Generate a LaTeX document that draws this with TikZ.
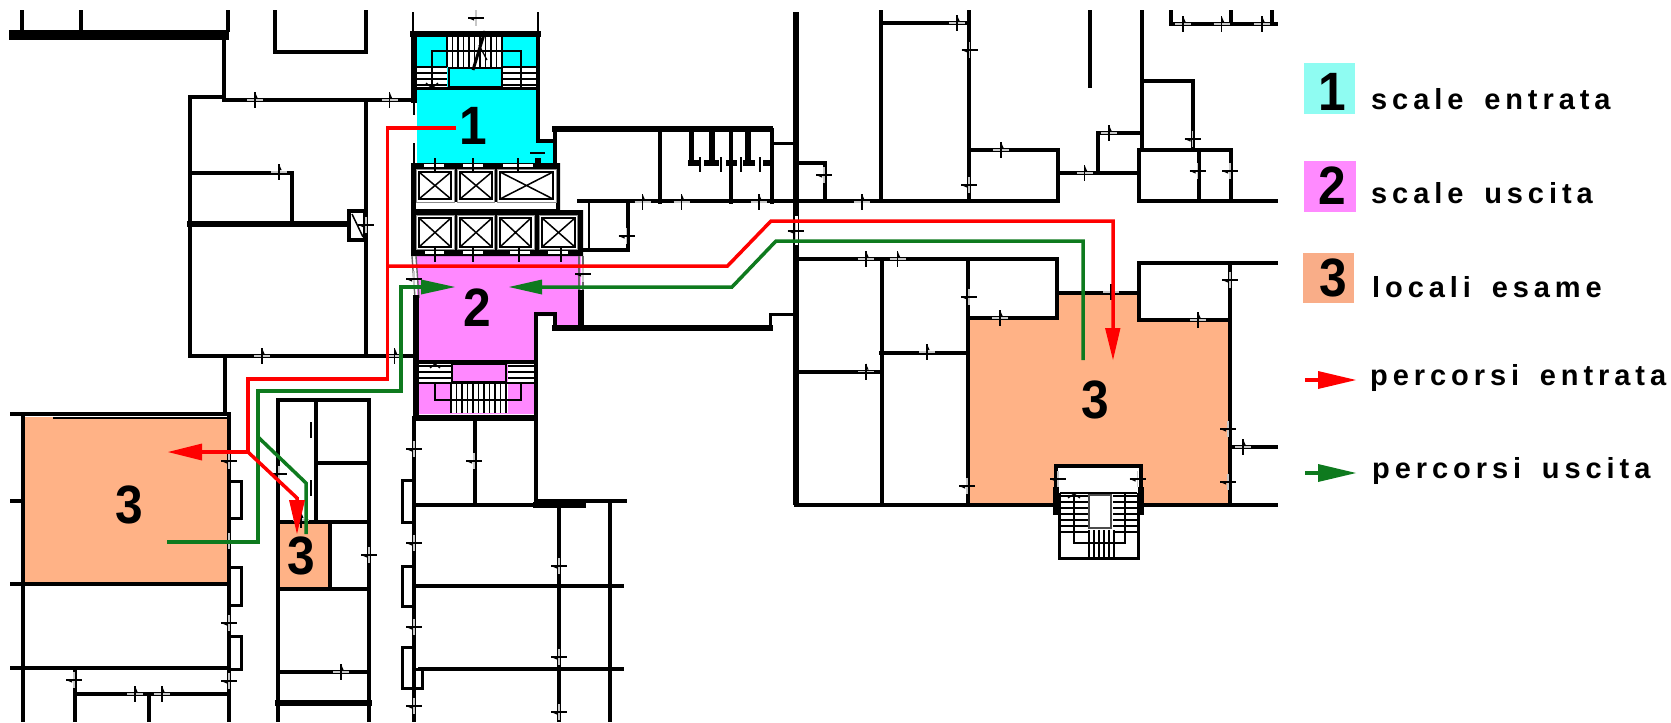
\documentclass[tikz,border=0pt]{standalone}
\usepackage{fontspec}
\setmainfont{Liberation Sans}
\newfontfamily\legfont{Liberation Sans}[LetterSpace=17,WordSpace=1.6]
\usetikzlibrary{arrows.meta}
\definecolor{cyanroom}{HTML}{00FFFF}
\definecolor{pinkroom}{HTML}{FF88FF}
\definecolor{orangeroom}{HTML}{FFB286}
\definecolor{legcyan}{HTML}{8FFCF2}
\definecolor{legpink}{HTML}{FF8AFF}
\definecolor{legorange}{HTML}{F9AD88}
\definecolor{pathgreen}{HTML}{0E7A1E}
\tikzset{
  wallpen/.style={line width=4pt,line cap=rect,line join=miter},
  thickwall/.style={line width=5.5pt,line cap=rect,line join=miter},
  slimwall/.style={line width=2.2pt},
  treadpen/.style={line width=1.6pt},
  doorpatch/.style={line width=1.2pt,black!22},
  doortick/.style={line width=1.3pt},
  liftbox/.style={fill=white,draw=black!45,line width=1pt},
  liftcore/.style={draw=black,line width=2pt},
  routered/.style={red,line width=3.5pt,line join=miter},
  routegreen/.style={pathgreen,line width=3.5pt,line join=miter},
  bignum/.style={inner sep=0pt,xscale=.92,transform shape,font=\fontsize{54}{54}\selectfont\bfseries},
  legtext/.style={inner sep=0pt,anchor=base west,font=\fontsize{29}{29}\selectfont\legfont\bfseries},
}
\begin{document}
\begin{tikzpicture}[x=1pt,y=-1pt]
\useasboundingbox (0,0) rectangle (1671,723);
\fill[white] (0,0) rectangle (1671,723);
%--- room fills
\fill[cyanroom] (417,37) rectangle (536,163);
\fill[cyanroom] (536,143) rectangle (555,163);
\fill[pinkroom] (417,256) -- (581,256) -- (581,326) -- (557,326) -- (557,316) -- (534,316) -- (534,414) -- (417,414) -- cycle;
\fill[orangeroom] (969,320) -- (1056,320) -- (1056,293) -- (1139,293) -- (1139,322) -- (1229,322) -- (1229,503) -- (969,503) -- cycle;
\fill[orangeroom] (24,417) rectangle (228,583);
\fill[orangeroom] (279,523) rectangle (329,588);
%--- left-hand walls
\draw[line width=10pt] (9,34.5) -- (229,34.5);
\draw[wallpen] (22,12) -- (22,30) (81,12) -- (81,30) (228,12) -- (228,30);
\draw[wallpen] (224,39) -- (224,100) -- (412,100);
\draw[wallpen] (190,356) -- (190,97) -- (224,97);
\draw[wallpen] (275,12) -- (275,52) -- (366,52) -- (366,12);
\draw[wallpen] (366,100) -- (366,356);
\draw[wallpen] (190,356) -- (414,356);
\draw[thickwall] (190,224) -- (348,224);
\draw[wallpen] (190,173) -- (292,173) -- (292,224);
\draw[wallpen,fill=white] (349,211) rectangle (365,240);
\draw[line width=1.5pt] (352,214) -- (363,237);
\draw[wallpen] (225,357) -- (225,414);
\draw[wallpen] (12,414) -- (229,414);
\draw[line width=2pt] (53,418) -- (228,418);
\draw[wallpen] (23,415) -- (23,720);
\draw[wallpen] (229,414) -- (229,720);
\draw[wallpen] (12,501) -- (23,501);
\draw[wallpen] (12,584) -- (228,584);
\draw[wallpen] (12,668) -- (228,668);
\draw[wallpen] (75,668) -- (75,720);
\draw[wallpen] (77,694) -- (228,694);
\draw[wallpen] (149,694) -- (149,720);
\foreach \ya/\yb in {481/518,567/605,636/669}{\draw[line width=3pt] (229,\ya) rectangle (241,\yb);}
%--- central column
\draw[wallpen] (277.5,400) -- (369,400) -- (369,720);
\draw[wallpen] (277.5,400) -- (277.5,720);
\draw[wallpen] (316,400) -- (316,522);
\draw[wallpen] (316,463) -- (369,463);
\draw[wallpen] (278,522) -- (369,522);
\draw[wallpen] (330,522) -- (330,589);
\draw[wallpen] (278,589) -- (369,589);
\draw[wallpen] (278,672) -- (369,672);
\draw[thickwall] (278,703) -- (369,703);
%--- stair core 1 walls
\draw[line width=2.2pt] (413,12) -- (413,33) (538,12) -- (538,33);
\draw[thickwall] (413,34) -- (538,34);
\draw[thickwall] (414,34) -- (414,100);
\draw[slimwall] (414,100) -- (414,163);
\fill[white] (412,115) rectangle (416,143);
\draw[wallpen] (538,34) -- (538,141) -- (555,141) -- (555,129);
\draw[thickwall] (555,129) -- (770,129);
\draw[wallpen] (555,129) -- (555,165);
\fill (535,158) rectangle (541,168);
%--- stair core 1 detail
\fill[white] (447,37) rectangle (503,67);
\foreach \x in {447,452.5,...,503}{\draw[treadpen] (\x,37) -- (\x,67);}
\fill[white] (417,67) rectangle (447,88);
\fill[white] (503,67) rectangle (536,88);
\foreach \y in {67,73,79,85}{\draw[treadpen] (417,\y) -- (447,\y) (503,\y) -- (536,\y);}
\draw[line width=1.6pt,fill=cyanroom] (449,68) rectangle (502,87);
\draw[slimwall] (432,88) -- (432,51) -- (521,51) -- (521,88);
\draw[line width=2.6pt] (417,88.5) -- (536,88.5);
\draw[line width=3pt] (473,70) -- (485,31);
\draw[line width=1.2pt] (479,45) -- (487,60);
\draw[line width=1.2pt] (426,83) -- (432,88) -- (438,83);
\draw[doortick] (530,153) -- (545,153);
%--- lift block
\fill (411,163) -- (560,163) -- (560,210) -- (583,210) -- (583,256) -- (411,256) -- cycle;
\fill[white] (416,202) rectangle (556,209);
\foreach \xa/\xb/\xc/\xd in {416/454/419/451,457/494/460/492,497/556/500/553}{
  \draw[liftbox] (\xa,169) rectangle (\xb,202);
  \draw[liftcore] (\xc,172) rectangle (\xd,199);
  \draw[line width=1.5pt] (\xc,172) -- (\xd,199) (\xc,199) -- (\xd,172);
}
\foreach \xa/\xb/\xc/\xd in {416/454/419/451,457/494/460/492,497/534/500/531,539/577/542/575}{
  \draw[liftbox] (\xa,215) rectangle (\xb,249);
  \draw[liftcore] (\xc,218) rectangle (\xd,247);
  \draw[line width=1.5pt] (\xc,218) -- (\xd,247) (\xc,247) -- (\xd,218);
}
\foreach \xa/\xb in {424/444,463/483,503/533}{\fill[white] (\xa,163.5) rectangle (\xb,167);}
\foreach \xa/\xb in {425/444,463/483,510/530,548/568}{\fill[white] (\xa,250.5) rectangle (\xb,254);}
\foreach \x in {435,473,518}{\draw[doortick] (\x,158) -- (\x,172);}
\foreach \x in {435,473,519,561}{\draw[doortick] (\x,247) -- (\x,262);}
%--- pink column walls
\draw[line width=1.4pt,black!60] (412,256) -- (415,298) (416,256) -- (419,298);
\draw[thickwall] (416,298) -- (416,418);
\draw[line width=1.4pt,black!60] (579,256) -- (579,293) (583,256) -- (583,293);
\draw[thickwall] (581,293) -- (581,328);
\draw[thickwall] (555,328) -- (770,328);
\draw[wallpen] (555,328) -- (555,314) -- (536,314) -- (536,500);
\draw[wallpen] (536,501) -- (625,501);
\draw[line width=3pt] (770,328) -- (770,314) -- (795,314);
%--- stair core 2 detail
\draw[wallpen] (418,362) -- (534,362);
\fill[white] (419,364) rectangle (451,383);
\fill[white] (508,364) rectangle (534,383);
\foreach \y in {366,372,378}{\draw[treadpen] (419,\y) -- (451,\y) (508,\y) -- (534,\y);}
\draw[line width=1.6pt,fill=pinkroom] (452,364) rectangle (506,382);
\draw[treadpen] (419,383) -- (534,383);
\fill[white] (451,384) rectangle (508,413);
\foreach \x in {451,456.5,...,508}{\draw[treadpen] (\x,384) -- (\x,413);}
\draw[slimwall] (435,383) -- (435,400) -- (521,400) -- (521,383);
\draw[line width=1.2pt] (430,368) -- (435,364) -- (440,368);
\draw[line width=6pt] (414,418) -- (537,418);
%--- lower centre block
\draw[wallpen] (414,418) -- (414,720);
\draw[wallpen] (475,418) -- (475,504);
\draw[wallpen] (414,505) -- (536,505);
\draw[thickwall] (536,505) -- (583,505);
\draw[wallpen] (559,501) -- (559,720);
\draw[wallpen] (610,501) -- (610,720);
\draw[wallpen] (414,586) -- (622,586);
\draw[wallpen] (420,669) -- (622,669);
\foreach \ya/\yb in {480/522,566/606,647/688}{\draw[line width=3pt] (402,\ya) rectangle (414,\yb);}
\draw[line width=3pt] (414,669) -- (422,669) -- (422,688) -- (414,688);
%--- upper middle walls
\draw[wallpen] (772,130) -- (772,202);
\draw[line width=3pt] (772,143) -- (795,143);
\draw[wallpen] (660,130) -- (660,202) (731,130) -- (731,202);
\draw[thickwall] (691.5,132) -- (691.5,162) (712,132) -- (712,162) (748,132) -- (748,162);
\draw[thickwall] (691,163) -- (696,163) (707,163) -- (716,163) (729,163) -- (734,163) (746,163) -- (752,163) (766,163) -- (770,163);
\foreach \x in {700,721,741,760}{\draw[doortick] (\x,157) -- (\x,172);}
\draw[wallpen] (583,201) -- (1058,201);
\draw[wallpen] (579,201) -- (628,201) -- (628,250) -- (584,250);
\draw[slimwall] (589,201) -- (589,250);
\draw[wallpen] (797,163) -- (825,163) -- (825,201);
\draw[wallpen] (881,23) -- (969,23);
\draw[wallpen] (881,12) -- (881,201);
\draw[wallpen] (969,12) -- (969,201);
\draw[wallpen] (969,150) -- (1058,150) -- (1058,201);
\draw[wallpen] (1090,12) -- (1090,86);
\draw[wallpen] (1058,173) -- (1139,173);
\draw[wallpen] (1098,173) -- (1098,133) -- (1142,133);
\draw[wallpen] (1142,12) -- (1142,150);
\draw[wallpen] (1142,81) -- (1193,81) -- (1193,150);
\draw[wallpen] (1139,150) -- (1231,150) -- (1231,200);
\draw[wallpen] (1139,150) -- (1139,201);
\draw[wallpen] (1199,150) -- (1199,200);
\draw[wallpen] (1139,201) -- (1276,201);
\draw[wallpen] (1171,12) -- (1171,24) -- (1276,24);
\draw[wallpen] (1231,12) -- (1231,24) (1272,12) -- (1272,24);
%--- main vertical wall
\draw[line width=6pt] (796,12) -- (796,505);
\fill[white] (794.5,216) rectangle (797.5,245);
%--- lower right walls
\draw[wallpen] (796,259) -- (1057,259) -- (1057,318) -- (968,318);
\draw[wallpen] (881.5,259) -- (881.5,504);
\draw[wallpen] (968,259) -- (968,504);
\draw[wallpen] (881,352.5) -- (968,352.5);
\draw[wallpen] (796,371.5) -- (881,371.5);
\draw[wallpen] (1057,292.5) -- (1139,292.5);
\draw[wallpen] (1139,263) -- (1276,263);
\draw[wallpen] (1139,263) -- (1139,320) -- (1230,320);
\draw[wallpen] (1230,263) -- (1230,504);
\draw[wallpen] (1230,447) -- (1276,447);
\draw[wallpen] (796,504.5) -- (1058,504.5);
\draw[wallpen] (1138,504.5) -- (1276,504.5);
%--- stair 3
\fill[white] (1055,466) rectangle (1141,493);
\draw[wallpen] (1056,492) -- (1056,466) -- (1141,466) -- (1141,492);
\draw[thickwall] (1056,490) -- (1056,512) (1141,490) -- (1141,512);
\fill[white] (1058,493) rectangle (1138,558);
\draw[line width=3pt] (1059,493) -- (1059,558) -- (1138,558) -- (1138,493);
\foreach \y in {496,502,508,514,520,526,532}{\draw[treadpen] (1060,\y) -- (1088,\y) (1113,\y) -- (1137,\y);}
\foreach \x in {1089,1094,...,1114}{\draw[treadpen] (\x,530) -- (\x,557);}
\draw[treadpen] (1060,493) -- (1137,493);
\draw[slimwall] (1074,493) -- (1074,543) -- (1125,543) -- (1125,493);
\draw[line width=1.4pt,black!70,fill=white] (1089,495) rectangle (1111,528);
\draw[line width=1.2pt] (1068,498) -- (1074,494) -- (1080,498);
%--- doors on horizontal walls
\foreach \x/\y in {255/100,389.5/100,279/172,262/356,394.6/356,135/694,162/694,341/672,301/520,
 957/23,642.5/202,681.6/202,759/202,862/202,1001/150,1084.5/173,1109/133,1183/24,1221.5/24,1262/24,
 866/259,897.5/259,1111/292,1000/318,1198/320,927/352,866/371.7,1243/447}{
  \draw[doorpatch] ({\x-8},\y) -- ({\x+8},\y);
  \draw[doortick] (\x,{\y-8}) -- (\x,{\y+8});
  \fill (\x,{\y-8}) -- ({\x+2.6},{\y-2}) -- (\x,{\y-2}) -- cycle;
}
%--- doors on vertical walls
\foreach \x/\y in {366/225,414/279,583/274,229/461,279/474,229/541,229/623,74/680,229/681,414/543,414/627,414/706,
 474/461,414/449,369/555,559/566,559/657,559/712,476/18,
 969.5/50,969/185,824/175,795.6/231,626.5/236,1192.5/139,1197.7/171,1230/171,969/297,1230/280,
 1228/429,1228/482,967/486,1058/479,1137.5/479}{
  \draw[doorpatch] (\x,{\y-8}) -- (\x,{\y+8});
  \draw[doortick] ({\x-8},\y) -- ({\x+8},\y);
  \fill ({\x-8},\y) -- ({\x-2},{\y+2.6}) -- ({\x-2},\y) -- cycle;
}
\draw[doortick] (311,422) -- (311,438) (311,480) -- (311,496);
%--- routes
\coordinate (rstart) at (456,128);
\coordinate (rfork) at (248,452);
\coordinate (rroomA) at (168,452);
\coordinate (rroomB) at (297,534);
\coordinate (rmid) at (387.5,266);
\coordinate (rroomC) at (1113,360);
\coordinate (gstairA) at (455,287);
\coordinate (gstairB) at (509,287);
\coordinate (groomA) at (167,542);
\coordinate (gfork) at (258,437);
\coordinate (groomB) at (306,534);
\coordinate (groomC) at (1083,360);
\draw[routegreen] (groomC) -- (1083,241) -- (776,241) -- (732,287) -- (542,287);
\fill[pathgreen] (542,279.5) -- (gstairB) -- (542,294.5) -- cycle;
\draw[routegreen] (groomA) -- (258,542) -- (258,391) -- (401,391) -- (401,287) -- (421,287);
\fill[pathgreen] (421,279.5) -- (gstairA) -- (421,294.5) -- cycle;
\draw[routegreen] (gfork) -- (306,483) -- (groomB);
\draw[routered] (rstart) -- (387.5,128) -- (387.5,379) -- (248,379) -- (rfork) -- (201,452);
\fill[red] (202,443.5) -- (rroomA) -- (202,460.5) -- cycle;
\draw[routered] (rfork) -- (297,498) -- (297,501);
\fill[red] (289,500) -- (rroomB) -- (305,500) -- cycle;
\draw[routered] (rmid) -- (727.5,266) -- (771,221) -- (1113,221) -- (1113,329);
\fill[red] (1105,328) -- (rroomC) -- (1120.5,328) -- cycle;
%--- plan labels
\node[bignum] (n1) at (473,126) {1};
\node[bignum] (n2) at (477,308) {2};
\node[bignum] (n3a) at (129,505) {3};
\node[bignum] (n3b) at (301,556) {3};
\node[bignum] (n3c) at (1095,400) {3};
%--- legend
\fill[legcyan] (1304,63) rectangle (1355,114);
\fill[legpink] (1304,161) rectangle (1356,212);
\fill[legorange] (1303,253) rectangle (1354,303);
\node[bignum] (l1) at (1332,92) {1};
\node[bignum] (l2) at (1332,186) {2};
\node[bignum] (l3) at (1333,278) {3};
\node[legtext] (t1) at (1371,109) {scale entrata};
\node[legtext] (t2) at (1371,203) {scale uscita};
\node[legtext] (t3) at (1372,297) {locali esame};
\node[legtext] (t4) at (1370,385) {percorsi entrata};
\node[legtext] (t5) at (1372,478) {percorsi uscita};
\coordinate (la) at (1305,380); \coordinate (lb) at (1356,380);
\coordinate (lc) at (1305,473); \coordinate (ld) at (1356,473);
\draw[red,line width=4pt] (la) -- (1320,380);
\fill[red] (1318,371) -- (lb) -- (1318,389) -- cycle;
\draw[pathgreen,line width=4pt] (lc) -- (1320,473);
\fill[pathgreen] (1318,464) -- (ld) -- (1318,482) -- cycle;
\end{tikzpicture}
\end{document}
